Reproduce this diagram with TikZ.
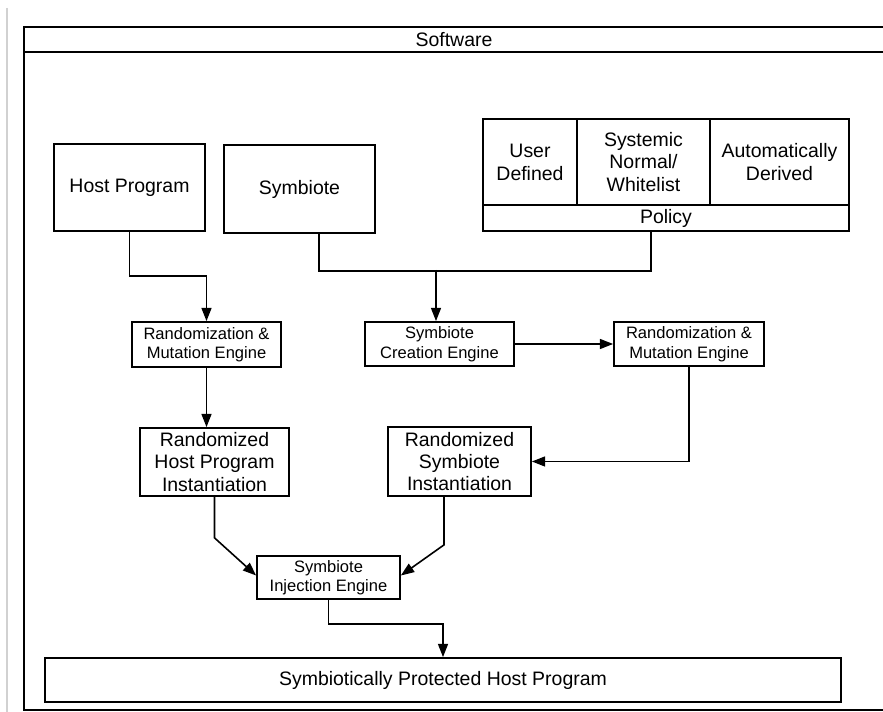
\documentclass[tikz,border=0pt]{standalone}
\usepackage{fontspec}
\setmainfont{Liberation Sans}
\usetikzlibrary{arrows.meta}
\tikzset{
  x=0.75pt, y=-0.75pt,
  boxA/.style={draw, line width=1.3pt, inner sep=0pt, align=center,
    font=\fontsize{14.6}{16.7}\selectfont},
  boxB/.style={draw, line width=1.3pt, inner sep=0pt, align=center,
    font=\fontsize{12.4}{14.6}\selectfont},
  cell/.style={draw, line width=1.3pt, inner sep=0pt, align=center,
    font=\fontsize{14.6}{17.2}\selectfont},
  conn/.style={line width=1.2pt},
  arr/.style={line width=1.2pt, -{Triangle[length=10pt,width=7.5pt]}},
}
\begin{document}
\begin{tikzpicture}
\useasboundingbox (0,0) rectangle (883,712);
\clip (0,0) rectangle (883,712);
% screenshot edge line
\draw[line width=1.1pt, black!18] (7,8) -- (7,712);
% outer frame
\draw[line width=1.6pt] (24,27) rectangle (888,710);
\draw[line width=1.6pt] (24,52) -- (888,52);
\node[font=\fontsize{14.6}{16.7}\selectfont] (title) at (454,39.5) {Software};

% top row
\node[boxA, minimum width=113.25pt, minimum height=65.25pt] (host) at (129.5,187.5) {Host Program};
\node[boxA, minimum width=113.25pt, minimum height=66pt] (symb) at (299.5,189) {Symbiote};
% policy table
\node[cell, minimum width=70.5pt, minimum height=64.5pt] (user) at (530,162) {User\\Defined};
\node[cell, minimum width=99.75pt, minimum height=64.5pt] (sys) at (643.5,162) {Systemic\\Normal/\\Whitelist};
\node[cell, minimum width=104.25pt, minimum height=64.5pt] (auto) at (779.5,162) {Automatically\\Derived};
\node[cell, minimum width=274.5pt, minimum height=19.5pt] (policy) at (666,218) {Policy};

% engines
\node[boxB, minimum width=111.75pt, minimum height=33.75pt] (rm1) at (206.5,344.5) {Randomization \&\\Mutation Engine};
\node[boxB, minimum width=111.75pt, minimum height=33pt] (sce) at (439.5,344) {Symbiote\\Creation Engine};
\node[boxB, minimum width=112.5pt, minimum height=33pt] (rm2) at (689,344) {Randomization \&\\Mutation Engine};

% instantiations
\node[boxA, minimum width=111.75pt, minimum height=51pt] (rhpi) at (214.5,462) {Randomized\\Host Program\\Instantiation};
\node[boxA, minimum width=107.25pt, minimum height=51.75pt] (rsi) at (459.5,461.5) {Randomized\\Symbiote\\Instantiation};

% injection
\node[boxB, minimum width=107.25pt, minimum height=32.25pt] (sie) at (328.5,577.5) {Symbiote\\Injection Engine};

% result
\node[boxA, minimum width=597pt, minimum height=33pt] (sphp) at (443,680) {Symbiotically Protected Host Program};

% connectors
\draw[arr] (host.south) -- ++(0,44) -| (rm1.north);
\draw[conn] ([xshift=14.6pt]symb.south) -- ++(0,37) coordinate (j0) -| ([xshift=-11.25pt]policy.south);
\coordinate (j) at (436,270);
\draw[arr] (j) -- (j |- sce.north);
\draw[arr] (sce.east) -- (rm2.west);
\draw[arr] (rm1.south) -- (rm1.south |- rhpi.north);
\draw[arr] (rm2.south) |- (rsi.east);
\draw[arr] (rhpi.south) -- ++(0,41) -- ([yshift=1.5pt]sie.west);
\draw[arr] ([xshift=-11.6pt]rsi.south) -- ++(0,48) -- ([yshift=1.5pt]sie.east);
\draw[arr] (sie.south) -- ++(0,24) -| (sphp.north);
\end{tikzpicture}
\end{document}
